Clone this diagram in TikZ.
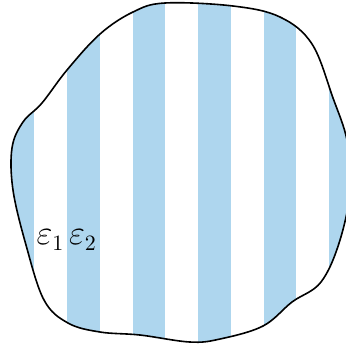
\documentclass[tikz,border=0pt]{standalone}
\usepackage{xcolor}
\usepackage{tikz}
\definecolor{stripeblue}{RGB}{174,214,238}
\tikzset{
  outline/.style={draw=black, line width=0.8pt},
  stripe/.style={fill=stripeblue, draw=none},
  medium/.style={font=\fontsize{16}{19}\selectfont, inner sep=0pt},
}
\newcommand{\blobpath}{plot[smooth cycle, tension=0.6] coordinates {
  (165,3) (233,6) (280,17) (312,44) (333,98) (347,140) (351,185)
  (340,240) (321,282) (292,302) (263,326) (220,339) (190,342)
  (140,335) (100,332) (68,323) (44,300) (26,245) (13,190) (12,148)
  (23,122) (42,103) (67,70) (100,34) (133,12)}}
\begin{document}
\begin{tikzpicture}[x=0.5pt, y=-0.5pt]
\useasboundingbox (0,0) rectangle (346,345);
\clip (0,0) rectangle (346,345);

% layered region: stripes clipped to the blob
\begin{scope}
  \clip \blobpath;
  \foreach \k in {0,...,5}{
    \fill[stripe] ({1.5+65.5*\k},0) rectangle ({34.3+65.5*\k},345);
  }
\end{scope}
\draw[outline] \blobpath;

% the two materials
\node[medium] (eps1) at (50.5,240) {$\varepsilon_1$};
\node[medium] (eps2) at (83,240) {$\varepsilon_2$};
\end{tikzpicture}
\end{document}
